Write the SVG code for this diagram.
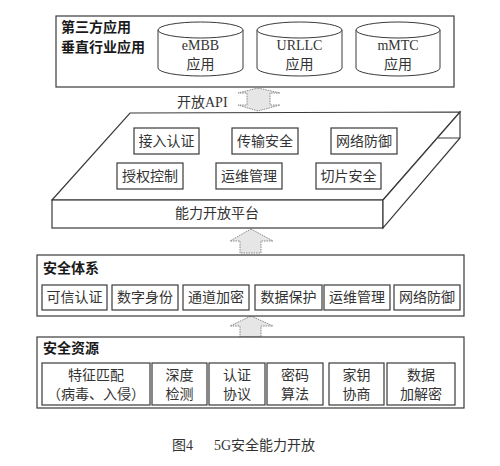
<svg xmlns="http://www.w3.org/2000/svg" width="500" height="466" viewBox="0 0 500 466">
<style>
.box{fill:#fff;stroke:#3a3a3a;stroke-width:1.2}
.ib{fill:#fff;stroke:#3a3a3a;stroke-width:1.2}
.t{font-family:"Liberation Serif","Noto Sans CJK SC",serif;font-size:14px;fill:#333}
.c{text-anchor:middle}
.b{font-family:"Noto Sans CJK SC",sans-serif;font-size:14px;font-weight:bold;fill:#1a1a1a}
.arr{fill:#e6e6e6;stroke:#888;stroke-width:1;stroke-dasharray:1.5 1}
.cyl{fill:#fff;stroke:#3a3a3a;stroke-width:1}
</style>
<rect width="500" height="466" fill="#fff"/>

<g id="apps">
<rect class="box" x="56" y="16" width="398" height="71"/>
<text class="b" x="61" y="32">第三方应用</text>
<text class="b" x="61" y="52">垂直行业应用</text>
</g>
<g id="embb">
<path class="cyl" d="M158,30 V68 A42.5,8 0 0 0 243,68 V30"/>
<ellipse class="cyl" cx="200.5" cy="30" rx="42.5" ry="8"/>
<text class="t c" x="200.5" y="50" font-size="15">eMBB</text>
<text class="t c" x="200.5" y="69" fill="#555">应用</text>
</g>
<g id="urllc">
<path class="cyl" d="M257,30 V68 A42.5,8 0 0 0 342,68 V30"/>
<ellipse class="cyl" cx="299.5" cy="30" rx="42.5" ry="8"/>
<text class="t c" x="299.5" y="50" font-size="15">URLLC</text>
<text class="t c" x="299.5" y="69" fill="#555">应用</text>
</g>
<g id="mmtc">
<path class="cyl" d="M356,30 V68 A42,8 0 0 0 440,68 V30"/>
<ellipse class="cyl" cx="398" cy="30" rx="42" ry="8"/>
<text class="t c" x="398" y="50" font-size="15">mMTC</text>
<text class="t c" x="398" y="69" fill="#555">应用</text>
</g>

<g id="connectors">
<path class="arr" d="M258,88 L280,93 L270,93 L270,105 L280,105 L258,111 L238,105 L247,105 L247,93 L238,93 Z"/>
<text class="t" x="177" y="107">开放API</text>
<path class="arr" d="M251,229 L273,241 L261,241 L261,253 L240,253 L240,241 L230,241 Z"/>
<path class="arr" d="M251,316 L273,326 L261,326 L261,337 L240,337 L240,326 L230,326 Z"/>
</g>

<g id="platform">
<polygon class="box" points="130,113 460,112 383,200 52,200"/>
<rect class="box" x="52" y="200" width="331" height="28"/>
<polygon class="box" points="383,200 460,112 460,138 383,228"/>
<line x1="438" y1="138" x2="460" y2="138" stroke="#3a3a3a" stroke-width="1"/>
<text class="t" x="175" y="218">能力开放平台</text>
</g>
<g id="p1"><rect class="ib" x="134" y="128" width="65" height="26"/><text class="t c" x="166.5" y="146">接入认证</text></g>
<g id="p2"><rect class="ib" x="232" y="128" width="66" height="26"/><text class="t c" x="265" y="146">传输安全</text></g>
<g id="p3"><rect class="ib" x="331" y="128" width="66" height="26"/><text class="t c" x="364" y="146">网络防御</text></g>
<g id="p4"><rect class="ib" x="117" y="163" width="66" height="26"/><text class="t c" x="150" y="181">授权控制</text></g>
<g id="p5"><rect class="ib" x="216" y="163" width="66" height="26"/><text class="t c" x="249" y="181">运维管理</text></g>
<g id="p6"><rect class="ib" x="316" y="163" width="65" height="26"/><text class="t c" x="348.5" y="181">切片安全</text></g>

<g id="security">
<rect class="box" x="37" y="255" width="427" height="61"/>
<text class="b" x="43" y="273">安全体系</text>
</g>
<g id="s1"><rect class="ib" x="42" y="285" width="65" height="25"/><text class="t c" x="74.5" y="302">可信认证</text></g>
<g id="s2"><rect class="ib" x="112" y="285" width="66" height="25"/><text class="t c" x="145" y="302">数字身份</text></g>
<g id="s3"><rect class="ib" x="183" y="285" width="66" height="25"/><text class="t c" x="216" y="302">通道加密</text></g>
<g id="s4"><rect class="ib" x="255" y="285" width="67" height="25"/><text class="t c" x="288.5" y="302">数据保护</text></g>
<g id="s5"><rect class="ib" x="324" y="285" width="66" height="25"/><text class="t c" x="357" y="302">运维管理</text></g>
<g id="s6"><rect class="ib" x="394" y="285" width="66" height="25"/><text class="t c" x="427" y="302">网络防御</text></g>

<g id="resources">
<rect class="box" x="37" y="337" width="427" height="71"/>
<text class="b" x="43" y="353">安全资源</text>
</g>
<g id="r1"><rect class="ib" x="42" y="363" width="108" height="42"/><text class="t c" x="96" y="380">特征匹配</text><text class="t c" x="96" y="399">（病毒、入侵）</text></g>
<g id="r2"><rect class="ib" x="152" y="363" width="55" height="42"/><text class="t c" x="179.5" y="380">深度</text><text class="t c" x="179.5" y="399">检测</text></g>
<g id="r3"><rect class="ib" x="209" y="363" width="56" height="42"/><text class="t c" x="237" y="380">认证</text><text class="t c" x="237" y="399">协议</text></g>
<g id="r4"><rect class="ib" x="267" y="363" width="56" height="42"/><text class="t c" x="295" y="380">密码</text><text class="t c" x="295" y="399">算法</text></g>
<g id="r5"><rect class="ib" x="329" y="363" width="55" height="42"/><text class="t c" x="356.5" y="380">家钥</text><text class="t c" x="356.5" y="399">协商</text></g>
<g id="r6"><rect class="ib" x="387" y="363" width="68" height="42"/><text class="t c" x="421" y="380">数据</text><text class="t c" x="421" y="399">加解密</text></g>

<text class="t" x="172" y="450" font-size="15">图4<tspan x="214">5G安全能力开放</tspan></text>
</svg>
